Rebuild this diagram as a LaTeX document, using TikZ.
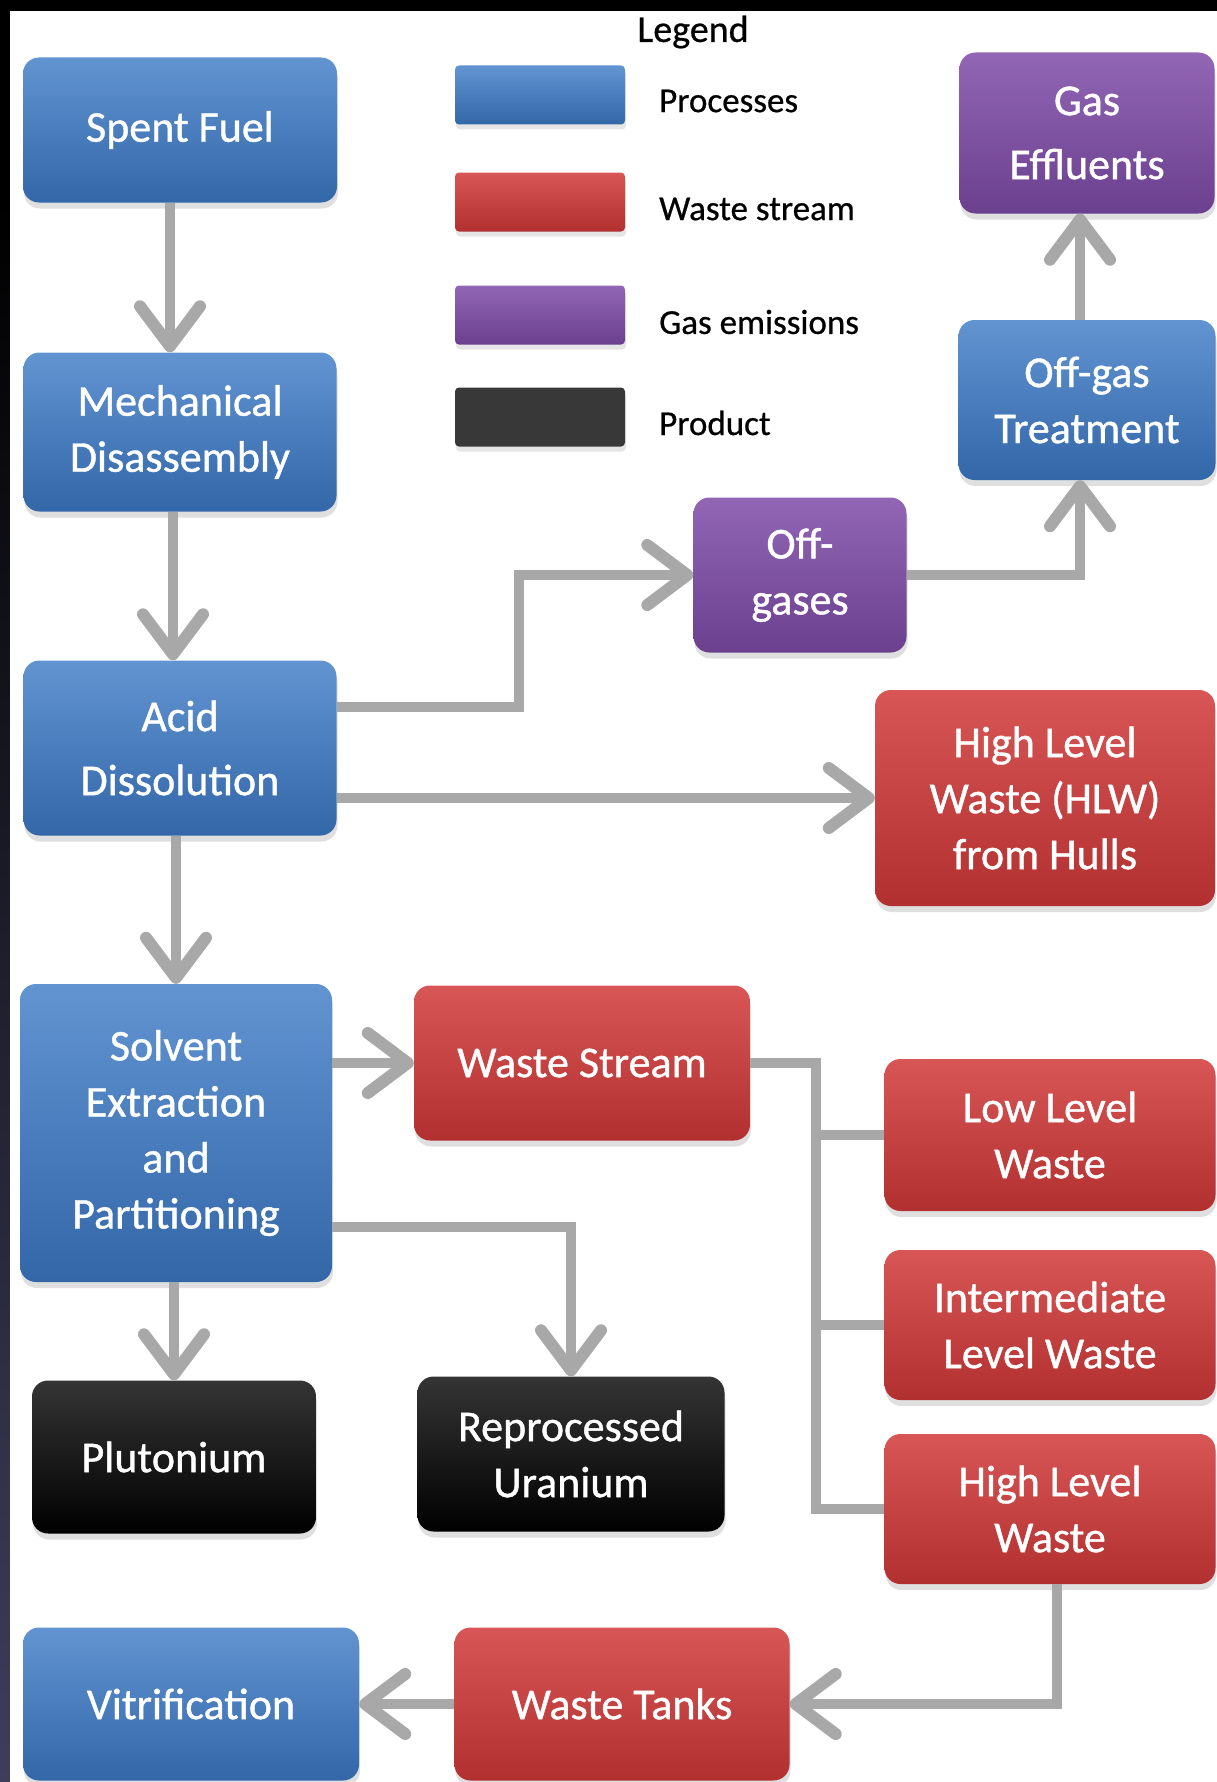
\documentclass[tikz,border=0pt]{standalone}
\usepackage{fontspec}
\setmainfont{Carlito}
\newfontfamily\boxfont{Carlito}[FakeBold=0.9]
\newfontfamily\legfont{Carlito}[FakeBold=0.6]
\usetikzlibrary{arrows.meta,positioning,shadows,calc}

\definecolor{procblue}{HTML}{3B79C6}
\definecolor{wastered}{HTML}{D23838}
\definecolor{gaspurple}{HTML}{7E4BA8}
\definecolor{prodblack}{HTML}{111111}
\definecolor{flowgray}{HTML}{A8A8A8}
\definecolor{edgenavy}{HTML}{3E3E5C}

\begin{document}
\begin{tikzpicture}[x=1pt,y=-1pt,
  box/.style={rounded corners=16pt, text=white, align=center, inner sep=0pt,
    font=\boxfont\fontsize{44}{56}\selectfont,
    drop shadow={shadow xshift=1pt, shadow yshift=-6pt, opacity=0.25}},
  wide/.style={font=\boxfont\fontsize{44}{64}\selectfont},
  sz/.style 2 args={minimum width=#1pt, minimum height=#2pt},
  proc/.style={box, top color=procblue!80!white, bottom color=procblue!85!black},
  waste/.style={box, top color=wastered!85!white, bottom color=wastered!85!black},
  gas/.style={box, top color=gaspurple!85!white, bottom color=gaspurple!85!black},
  prod/.style={box, top color=prodblack!85!white, bottom color=black},
  swatch/.style={rounded corners=4pt, minimum width=170pt, minimum height=59pt,
    drop shadow={shadow xshift=1pt, shadow yshift=-5pt, opacity=0.2}},
  legtext/.style={anchor=west, inner sep=0pt, font=\legfont\fontsize{35}{40}\selectfont},
  link/.style={draw=flowgray, line width=10pt},
  flow/.style={link, -{Straight Barb[length=40pt, width=60pt, line width=12pt, round]}}]

% page and frame
\useasboundingbox (0,0) rectangle (1217,1782);
\clip (0,0) rectangle (1217,1782);
\fill[black] (0,0) rectangle (1217,1782);
\shade[top color=black, bottom color=edgenavy] (0,200) rectangle (10,1782);
\fill[white] (10,11) rectangle (1217,1782);

% Legend
\node[font=\legfont\fontsize{38}{42}\selectfont] (legend) at (693,32) {Legend};
\node[swatch, top color=procblue!80!white, bottom color=procblue!85!black] (kproc) at (540,95) {};
\node[swatch, top color=wastered!85!white, bottom color=wastered!85!black] (kwaste) at (540,202) {};
\node[swatch, top color=gaspurple!85!white, bottom color=gaspurple!85!black] (kgas) at (540,315) {};
\node[swatch, fill=black!78] (kprod) at (540,417) {};
\node[legtext] (lproc) at (659,101) {Processes};
\node[legtext] (lwaste) at (659,209) {Waste stream};
\node[legtext] (lgas) at (659,322) {Gas emissions};
\node[legtext] (lprod) at (659,423) {Product};

% main chain
\node[proc, sz={314}{145}] (spent) at (180,130) {Spent Fuel};
\node[proc, sz={313}{159}] (mech) at (180,432) {Mechanical\\Disassembly};
\node[proc, wide, sz={313}{175}] (acid) at (180,748) {Acid\\Dissolution};
\node[proc, sz={312}{298}] (solvent) at (176,1133) {Solvent\\Extraction\\and\\Partitioning};
\node[prod, sz={284}{153}] (pluto) at (174,1457) {Plutonium};
\node[prod, sz={307}{155}] (uran) at (571,1454) {Reprocessed\\Uranium};

% gas branch
\node[gas, sz={213}{155}] (offg) at (800,575) {Off-\\gases};
\node[proc, sz={257}{160}] (treat) at (1087,400) {Off-gas\\Treatment};
\node[gas, wide, sz={255}{161}] (eff) at (1087,133) {Gas\\Effluents};

% waste streams
\node[waste, sz={340}{216}] (hulls) at (1045,798) {High Level\\Waste (HLW)\\from Hulls};
\node[waste, sz={336}{155}] (wstream) at (582,1063) {Waste Stream};
\node[waste, sz={331}{152}] (llw) at (1050,1135) {Low Level\\Waste};
\node[waste, sz={331}{150}] (ilw) at (1050,1325) {Intermediate\\Level Waste};
\node[waste, sz={331}{150}] (hlw) at (1050,1509) {High Level\\Waste};
\node[waste, sz={335}{153}] (tanks) at (622,1704) {Waste Tanks};
\node[proc, sz={336}{153}] (vitri) at (191,1704) {Vitrification};

% connectors
\draw[flow] ([xshift=-10pt]spent.south) -- ([xshift=-10pt]mech.north);
\draw[flow] ([xshift=-7pt]mech.south) -- ([xshift=-7pt]acid.north);
\draw[flow] (solvent.north |- acid.south) -- (solvent.north);
\draw[flow] ([yshift=41pt]acid.east) -- ++(182,0) |- (offg.west);
\draw[flow] ([yshift=-50pt]acid.east) -- (hulls.west);
\draw[flow] (offg.east) -| ([xshift=-7pt]treat.south);
\draw[flow] ([xshift=-7pt]treat.north) -- ([xshift=-7pt]eff.south);
\draw[flow] (wstream.west -| solvent.east) -- (wstream.west);
\draw[flow] ([yshift=-94pt]solvent.east) -| (uran.north);
\draw[flow] (pluto.north |- solvent.south) -- (pluto.north);

\coordinate (bus) at (816,1063);
\draw[link] (wstream.east) -- (bus) |- (hlw.west);
\foreach \n in {llw,ilw}
  \draw[link] (bus |- \n.west) -- (\n.west);

\draw[flow] ([xshift=7pt]hlw.south) |- (tanks.east);
\draw[flow] (tanks.west) -- (vitri.east);
\end{tikzpicture}
\end{document}
